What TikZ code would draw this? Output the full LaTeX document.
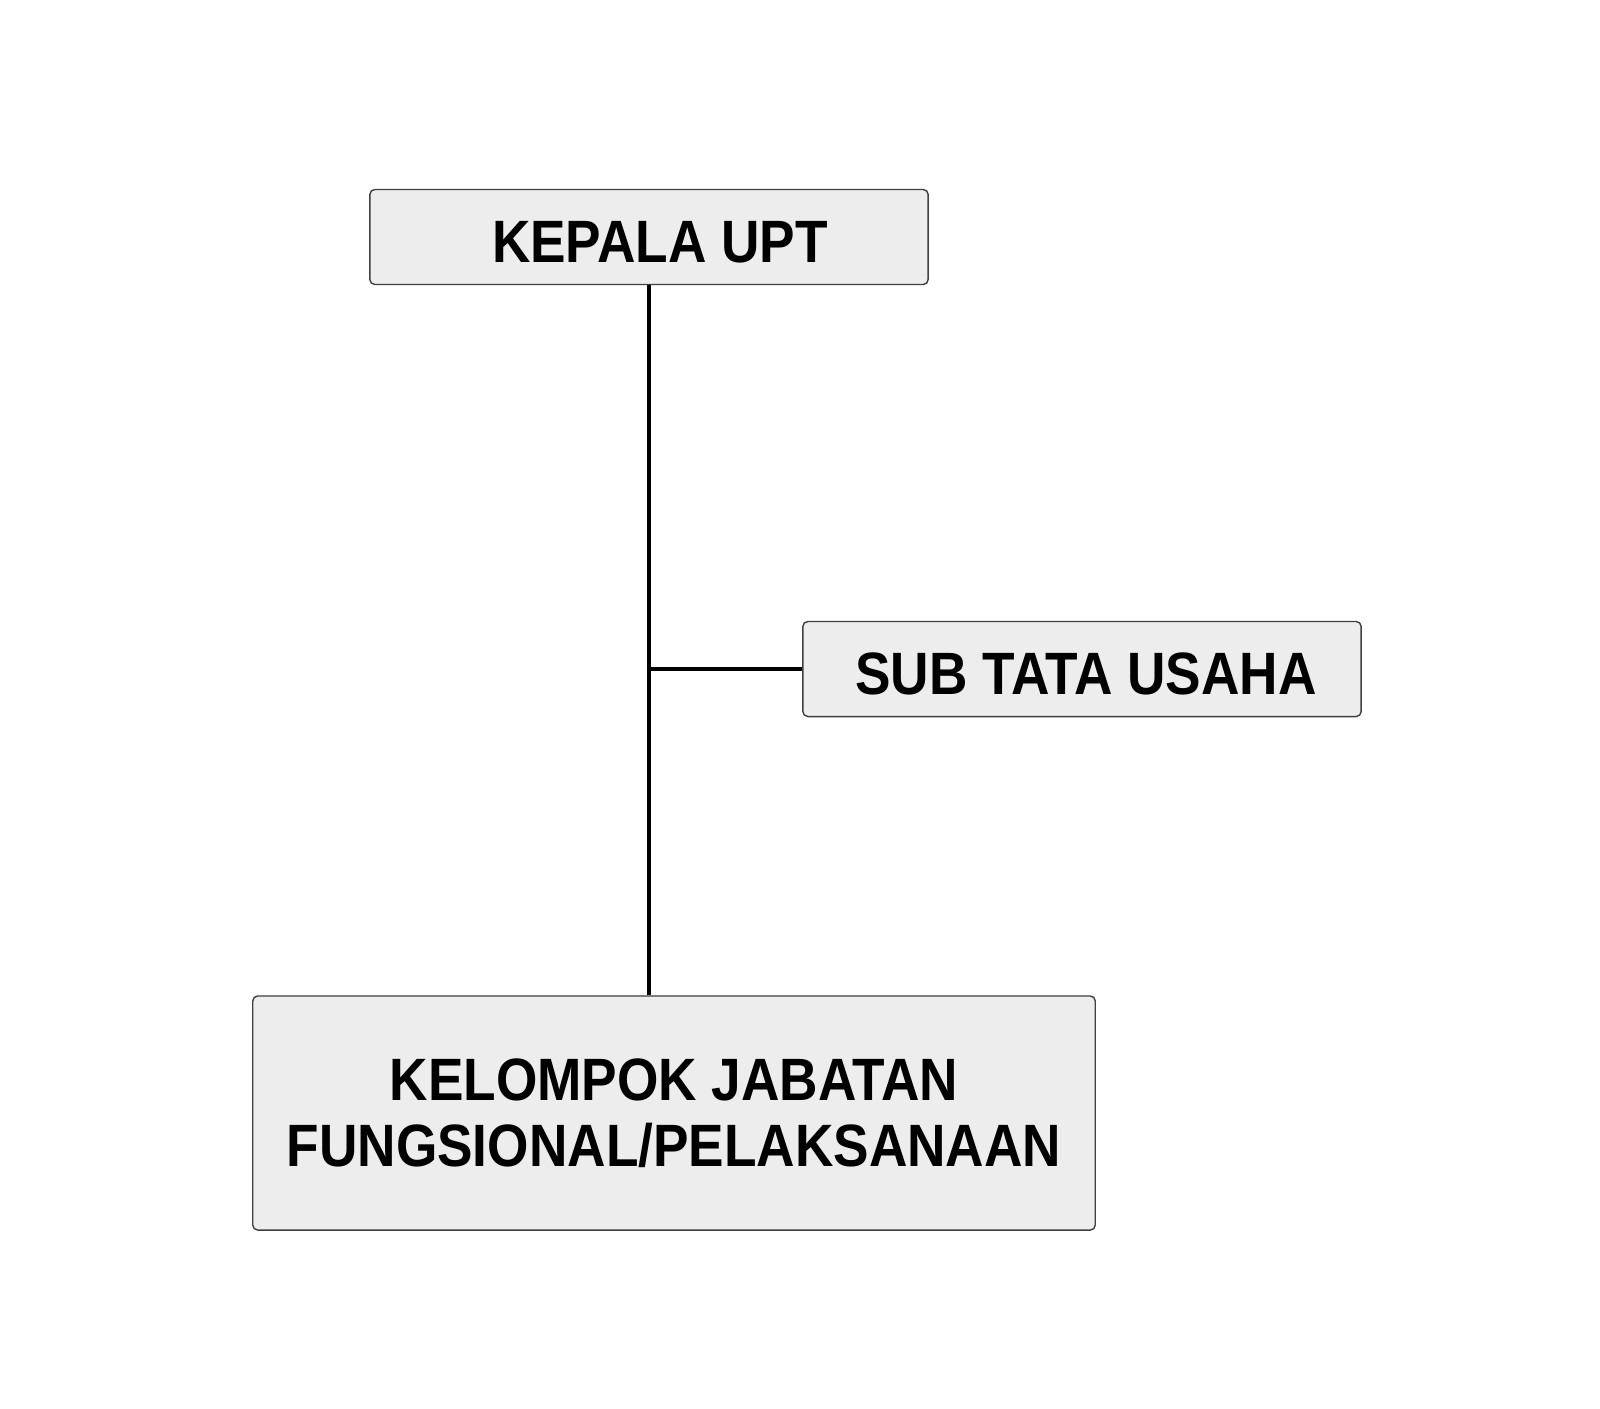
\documentclass[tikz,border=0pt]{standalone}
\usepackage{fontspec}
\setmainfont{Liberation Sans}[FakeStretch=0.89]
\usepackage{tikz}
\usetikzlibrary{positioning}

\begin{document}
\begin{tikzpicture}[x=0.01cm,y=-0.01cm,
	unit/.style={draw=black!75,line width=0.4pt,fill=black!7,rounded corners=0.05cm,
		inner sep=0pt,align=center,font=\fontsize{17}{18.8}\selectfont\bfseries},
	onerow/.style={unit,minimum width=5.58cm,minimum height=0.95cm,text height=0.51cm},
	link/.style={line width=1pt}]
			\useasboundingbox (0,0) rectangle (1600,1408);
			\node [onerow] (kepala) at (649,237) {\hspace*{0.22cm}KEPALA UPT};
			\node [onerow] (subtu) at (1082,669) {\hspace*{0.08cm}SUB TATA USAHA};
			\node [unit,minimum width=8.42cm,minimum height=2.34cm] (kelompok) at (674,1113) {KELOMPOK JABATAN\\FUNGSIONAL/PELAKSANAAN};
			\draw [link] (kepala.south) -- (kepala.south |- kelompok.north);
			\draw [link] (kepala.south |- subtu.west) -- (subtu.west);
			\end{tikzpicture}
\end{document}
